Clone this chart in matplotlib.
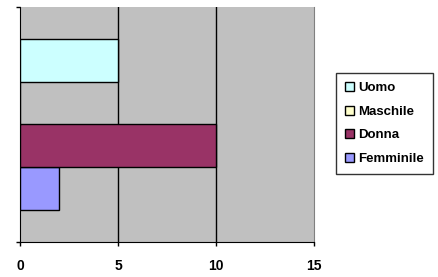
import matplotlib
matplotlib.use("Agg")
import matplotlib.pyplot as plt
import numpy as np

# one category, four series (bottom to top in the plot)
series = ["Femminile", "Donna", "Maschile", "Uomo"]
values = [2, 10, 0, 5]
colors = ["#9999FF", "#993366", "#FFFFCC", "#CCFFFF"]

x_ticks = [0, 5, 10, 15]

plt.rcParams['font.family'] = ['Liberation Sans', 'DejaVu Sans']
plt.rcParams['font.weight'] = 'bold'

fig = plt.figure(figsize=(4.39, 2.77), dpi=100, facecolor='w')
ax = fig.add_axes([20 / 439, 35 / 277, 294 / 439, 235 / 277])
ax.set_facecolor("#C0C0C0")

bar_h = 0.182
n = len(series)
offsets = (np.arange(n) - (n - 1) / 2) * bar_h
bars = []
for i in range(n):
    b = ax.barh(offsets[i], values[i], height=bar_h, color=colors[i],
                edgecolor='black', linewidth=1, label=series[i], zorder=3)
    bars.append(b)

ax.set_xlim(0, 15)
ax.set_ylim(-0.5, 0.5)
ax.set_xticks(x_ticks)
ax.set_xticklabels([str(t) for t in x_ticks], fontsize=10, fontweight='bold')
ax.set_yticks([-0.5, 0.5])
ax.set_yticklabels([])
ax.tick_params(axis='x', direction='out', length=3, pad=9, width=1)
ax.tick_params(axis='y', direction='out', length=3, width=1)

for v in x_ticks[1:-1]:
    ax.axvline(v, color='black', linewidth=1, zorder=1)

ax.spines['left'].set_color('black')
ax.spines['bottom'].set_color('black')
ax.spines['top'].set_visible(False)
ax.spines['right'].set_color('#808080')

handles = bars[::-1]
labels = series[::-1]
leg = fig.legend(handles, labels, loc='upper left',
                 bbox_to_anchor=(336 / 439, 1 - 73 / 277),
                 prop={'size': 9.5, 'weight': 'bold'},
                 frameon=True, fancybox=False, handlelength=0.7,
                 handleheight=0.7, handletextpad=0.3, labelspacing=0.85,
                 borderpad=0.7, borderaxespad=0)
leg.get_frame().set_edgecolor('black')
leg.get_frame().set_linewidth(1)

plt.savefig("out.png", dpi=100)
